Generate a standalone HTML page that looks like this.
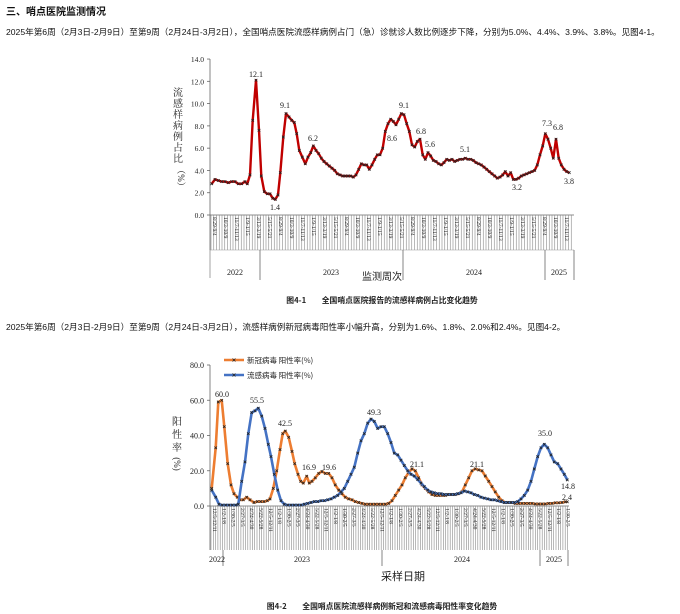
<!DOCTYPE html><html><head><meta charset="utf-8"><style>
body{margin:0;background:#fff;width:680px;height:614px;overflow:hidden;font-family:"Liberation Sans","Noto Sans CJK SC",sans-serif;}
.t{position:absolute;white-space:nowrap;color:#111}
</style></head><body>
<div class="t" style="left:6px;top:3px;font-size:10px;font-weight:bold">三、哨点医院监测情况</div>
<div class="t" style="left:6px;top:26px;font-size:8.6px">2025年第6周（2月3日-2月9日）至第9周（2月24日-3月2日），全国哨点医院流感样病例占门（急）诊就诊人数比例逐步下降，分别为5.0%、4.4%、3.9%、3.8%。见图4-1。</div>
<div class="t" style="left:6px;top:321px;font-size:8.6px">2025年第6周（2月3日-2月9日）至第9周（2月24日-3月2日），流感样病例新冠病毒阳性率小幅升高，分别为1.6%、1.8%、2.0%和2.4%。见图4-2。</div>
<svg id="s" width="680" height="614" style="position:absolute;left:0;top:0" font-family="Liberation Serif,Noto Serif CJK SC,serif"></svg>
<script>
const s=document.getElementById('s');let h='';
function L(x1,y1,x2,y2,c,w){h+=`<line x1="${x1}" y1="${y1}" x2="${x2}" y2="${y2}" stroke="${c}" stroke-width="${w}"/>`}
function T(x,y,t,fs,a,extra){h+=`<text x="${x}" y="${y}" font-size="${fs}" text-anchor="${a||'middle'}" fill="#222" ${extra||''}>${t}</text>`}
// chart 1
const y0=215,k=11.14;
L(210,59,210,250,'#666',0.8);L(210,215,574,215,'#666',0.8);
for(let i=0;i<=7;i++){let y=y0-i*2*k;L(207,y,210,y,'#666',0.8);T(204,y+3,(i*2).toFixed(1),7.5,'end');}
for(let x=211;x<=573;x+=2.75){L(x,215,x,250,'#888',0.6);}
for(let x=213,i=0;x<=573;x+=11,i++){T(0,0,['8/29-9/4','10/3-10/9','11/7-11/13','1/9-1/15','3/13-3/19','5/15-5/21'][i%6],5.5,'start',`fill="#111" transform="translate(${x},217) rotate(90)"`);}
L(210,250,574,250,'#999',0.5);L(210,278,210,250,'#666',0.6);
[260,403,545,574].forEach(x=>L(x,250,x,280,'#666',0.8));
T(235,275,'2022',8);T(331,275,'2023',8);T(474,275,'2024',8);T(559,275,'2025',8);
T(382,280,'监测周次',10,'middle','font-family="Noto Sans CJK SC,sans-serif" fill="#555"');
const yl='流感样病例占比';for(let i=0;i<yl.length;i++)T(178,96+i*11,yl[i],10,'middle','fill="#555"');
T(178,178,'（%）',9,'middle','fill="#555" transform="rotate(90,178,178)"');
const d1=[[155,2.8],[165,3.2],[175,3.1],[185,3.0],[195,3.0],[205,2.9],[215,3.0],[225,3.0],[235,2.8],[245,2.8],[255,3.0],[262,2.8],[270,3.6],[278,8.5],[288,12.1],[297,7.6],[304,3.5],[313,2.1],[322,1.9],[330,1.9],[338,1.5],[346,1.4],[354,1.8],[361,3.8],[370,7.0],[378,9.1],[387,8.8],[395,8.5],[403,8.3],[410,7.3],[418,5.8],[427,5.2],[436,4.6],[444,5.2],[452,5.6],[460,6.2],[468,5.8],[476,5.5],[484,5.1],[492,4.8],[500,4.6],[508,4.4],[516,4.2],[524,4.0],[532,3.7],[540,3.6],[548,3.5],[556,3.5],[564,3.5],[572,3.5],[580,3.4],[588,3.6],[596,4.1],[604,4.6],[612,4.5],[620,4.5],[628,4.1],[636,4.5],[644,5.0],[652,5.4],[660,5.4],[668,6.0],[676,7.5],[684,8.2],[692,8.6],[700,8.4],[708,8.1],[716,8.6],[724,9.1],[732,9.0],[740,8.2],[748,7.5],[756,6.3],[764,6.1],[772,6.6],[780,6.8],[788,5.4],[796,5.0],[804,5.6],[812,5.3],[820,4.9],[828,4.8],[836,4.6],[844,4.5],[852,4.7],[860,5.0],[868,4.9],[876,5.0],[884,4.8],[892,4.9],[900,5.0],[908,5.0],[916,5.1],[924,5.0],[932,5.0],[940,4.9],[948,4.7],[956,4.6],[964,4.5],[972,4.3],[980,4.1],[988,3.9],[996,3.7],[1004,3.5],[1012,3.3],[1020,3.4],[1028,3.6],[1036,3.9],[1044,3.5],[1052,3.8],[1060,3.2],[1068,3.2],[1076,3.3],[1084,3.5],[1092,3.6],[1100,3.7],[1108,3.8],[1116,3.9],[1124,4.0],[1132,4.5],[1140,5.4],[1148,6.2],[1156,7.3],[1164,6.8],[1172,6.0],[1180,5.1],[1188,6.8],[1196,5.1],[1204,4.5],[1212,4.1],[1220,3.9],[1228,3.8]];
function series(d,ox,oy,sc,c,w){let p=d.map(q=>[(ox+q[0]/3).toFixed(1),(oy-q[1]*sc).toFixed(1)]);
h+=`<polyline points="${p.map(q=>q.join(',')).join(' ')}" fill="none" stroke="${c}" stroke-width="${w}" stroke-linejoin="round"/>`;
p.forEach(q=>{h+=`<path d="M${q[0]-1.3},${q[1]-1.3}l2.6,2.6M${q[0]-1.3},${+q[1]+1.3}l2.6,-2.6" stroke="#222" stroke-width="0.8"/>`});}
series(d1,160,y0,k,'#c00000',2.4);
[[256,77,'12.1'],[285,108,'9.1'],[313,141,'6.2'],[275,210,'1.4'],[392,141,'8.6'],[404,108,'9.1'],[421,134,'6.8'],[430,147,'5.6'],[465,152,'5.1'],[517,190,'3.2'],[547,126,'7.3'],[558,130,'6.8'],[569,184,'3.8']].forEach(a=>T(a[0],a[1],a[2],8));
T(382,303,'图4-1　　全国哨点医院报告的流感样病例占比变化趋势',7.8,'middle','font-family="Noto Sans CJK SC,sans-serif" font-weight="bold"');
// chart 2
const z0=506,k2=1.7625;
L(210,365,210,550,'#666',0.8);L(210,506,569,506,'#666',0.8);
for(let i=0;i<=4;i++){let y=z0-i*20*k2;L(207,y,210,y,'#666',0.8);T(204,y+3,(i*20).toFixed(1),8,'end');}
for(let x=211;x<=568;x+=2.3){L(x,506,x,550,'#888',0.6);}
for(let x=213,i=0;x<=568;x+=9.3,i++){T(0,0,['12/5-12/11','1/2-1/8','1/30-2/5','2/27-3/5','4/24-4/30','5/22-5/28'][i%6],5.5,'start',`fill="#111" transform="translate(${x},508) rotate(90)"`);}
[223,382,540,568].forEach(x=>L(x,550,x,566,'#666',0.8));
T(217,562,'2022',8);T(302,562,'2023',8);T(462,562,'2024',8);T(554,562,'2025',8);
T(403,580,'采样日期',11,'middle','font-family="Noto Sans CJK SC,sans-serif" fill="#555"');
T(177,425,'阳',10,'middle','fill="#555"');T(177,438,'性',10,'middle','fill="#555"');T(177,451,'率',10,'middle','fill="#555"');T(177,467,'(%)',9,'middle','fill="#555" transform="rotate(90,177,464)"');
const o=[[155,10],[167,33],[175,59],[185,60],[193,45],[203,24],[213,12],[222,7],[232,5],[240,3.5],[250,3.5],[260,5],[270,3.5],[282,2],[292,2.5],[302,2.5],[312,2.5],[322,3],[330,4],[340,10],[350,20],[360,32],[368,41],[376,42.5],[386,39],[396,31],[404,24],[414,18],[422,14],[430,13],[440,16.9],[448,13],[456,14],[466,16],[476,18.5],[486,19.6],[496,18.5],[506,18.5],[516,16],[526,12],[536,9],[546,7],[556,5],[566,4],[576,3.5],[586,2.5],[596,2],[606,1.5],[616,1],[626,1],[636,1],[646,1],[656,1],[666,1],[676,1],[686,1.5],[696,3],[706,6],[716,9],[726,12],[736,16],[746,19],[756,21.1],[766,20],[776,16],[786,12],[796,10],[806,8],[816,6.5],[826,6],[836,6],[846,6],[856,6],[866,6.5],[876,6.5],[886,6.5],[896,7],[906,8],[916,12],[926,16],[936,20],[946,21.1],[956,20.5],[966,20],[976,17],[986,14],[996,11],[1006,8],[1016,5],[1026,3],[1036,2],[1046,2],[1056,2],[1066,1.5],[1076,1.5],[1086,1.5],[1096,1.5],[1106,1.5],[1116,1.5],[1126,1.2],[1136,1.2],[1146,1.2],[1156,1.2],[1166,1.5],[1176,1.5],[1186,1.8],[1196,1.8],[1206,2],[1216,2.4],[1222,2.4]];
const b=[[155,9],[167,5],[177,1],[187,0.5],[197,0.5],[207,0.5],[217,0.5],[227,0.5],[235,1],[245,14],[255,25],[265,41],[275,53],[285,54],[295,55.5],[305,51],[315,44],[325,35],[333,28],[343,18],[353,9],[363,3],[373,1],[383,0.5],[393,0.5],[403,0.5],[413,0.5],[423,0.5],[433,1],[443,1.5],[453,2],[463,2.5],[473,2.5],[483,3],[493,3],[503,3.5],[513,4],[523,5],[533,6],[543,8],[553,10],[563,14],[573,18],[583,22],[593,30],[603,37],[613,41],[623,47],[633,49.3],[643,48],[653,44],[663,45],[673,45],[683,41],[693,36],[703,30],[713,29],[723,26],[733,23],[743,20],[753,18],[763,17],[773,15],[783,13],[793,11],[803,9],[813,8],[823,7.5],[833,7],[843,7],[853,6.5],[863,6.5],[873,6.5],[883,6.5],[893,7],[903,7.5],[913,8.5],[923,8],[933,7.5],[943,6.5],[953,6],[963,5],[973,4.5],[983,4],[993,3.5],[1003,3.5],[1013,3],[1023,2.5],[1033,2],[1043,2],[1053,2],[1063,2],[1073,2.5],[1083,4],[1093,6],[1103,9],[1113,14],[1123,21],[1133,28],[1143,33],[1153,35],[1163,33],[1173,29],[1183,25],[1193,24],[1203,21],[1213,18],[1222,14.8]];
series(o,160,z0,k2,'#ed7d31',2.6);series(b,160,z0,k2,'#4472c4',2.6);
[[222,397,'60.0'],[257,403,'55.5'],[285,426,'42.5'],[309,470,'16.9'],[329,470,'19.6'],[374,415,'49.3'],[417,467,'21.1'],[477,467,'21.1'],[545,436,'35.0'],[568,489,'14.8'],[567,500,'2.4']].forEach(a=>T(a[0],a[1],a[2],8));
L(224,360,244,360,'#ed7d31',2.4);L(224,375,244,375,'#4472c4',2.4);
h+=`<path d="M232.5,358.5l3,3M232.5,361.5l3,-3M232.5,373.5l3,3M232.5,376.5l3,-3" stroke="#222" stroke-width="0.8"/>`;
T(247,363,'新冠病毒 阳性率(%)',7.5,'start','font-family="Noto Sans CJK SC,sans-serif" fill="#444"');
T(247,378,'流感病毒 阳性率(%)',7.5,'start','font-family="Noto Sans CJK SC,sans-serif" fill="#444"');
T(382,609,'图4-2　　全国哨点医院流感样病例新冠和流感病毒阳性率变化趋势',7.8,'middle','font-family="Noto Sans CJK SC,sans-serif" font-weight="bold"');
s.innerHTML=h;
</script></body></html>
